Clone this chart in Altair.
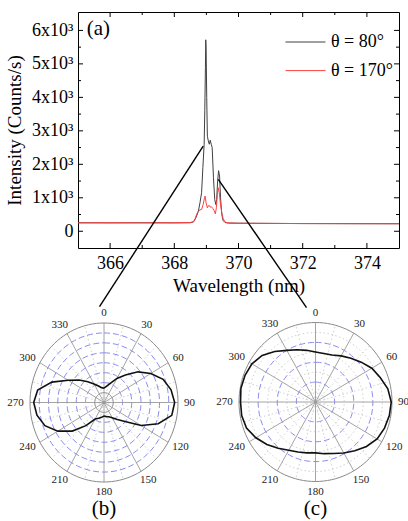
import altair as alt
import pandas as pd

SERIF = "Liberation Serif, Times New Roman, Times, serif"

# ---------------- emission spectra (counts/s vs wavelength in nm) ----------------
label_80 = "θ = 80°"
label_170 = "θ = 170°"

wl_80 = [365.0, 366.0, 367.0, 368.0, 368.5, 368.60, 368.68, 368.75, 368.80, 368.85,
         368.89, 368.93, 368.95, 368.97, 368.98, 368.99, 369.01, 369.03, 369.06, 369.09,
         369.12, 369.15, 369.18, 369.22, 369.26, 369.29, 369.32, 369.35, 369.38, 369.41,
         369.44, 369.48, 369.52, 369.58, 369.70, 370.0, 371.0, 372.0, 373.0, 374.0, 375.0]
counts_80 = [255, 250, 255, 250, 255, 280, 420, 600, 850, 1150,
             1900, 2600, 3600, 4900, 5720, 5500, 4000, 2840, 2700, 2600,
             2720, 2600, 2500, 1600, 950, 800, 950, 1500, 1810, 1650,
             1000, 500, 320, 260, 245, 240, 235, 230, 228, 226, 225]

wl_170 = [365.0, 366.0, 367.0, 368.0, 368.5, 368.60, 368.64, 368.70, 368.75, 368.80,
          368.85, 368.90, 368.94, 368.96, 368.99, 369.03, 369.06, 369.09, 369.12, 369.16,
          369.20, 369.24, 369.28, 369.31, 369.34, 369.37, 369.40, 369.44, 369.48, 369.52,
          369.58, 369.65, 370.0, 371.0, 372.0, 373.0, 374.0, 375.0]
counts_170 = [250, 255, 250, 255, 260, 290, 350, 520, 600, 640,
              650, 800, 1000, 1050, 850, 700, 760, 770, 720, 730,
              680, 620, 520, 700, 1100, 1300, 1150, 800, 550, 380,
              280, 250, 240, 235, 230, 228, 226, 225]

x_major = [366, 368, 370, 372, 374]
x_minor = [367, 369, 371, 373]
y_major = [0, 1000, 2000, 3000, 4000, 5000, 6000]
y_minor = [500, 1500, 2500, 3500, 4500, 5500]

# pointer lines from the two emission peaks down to the polar scans
pointer_wl = [368.90, 369.37]
pointer_counts = [2545, 1548]
pointer_wl_end = [365.67, 372.12]
pointer_counts_end = [-2254, -2284]

# ---------------- angular scans (normalised intensity, 10 degree steps) ----------------
scan_deg = list(range(0, 360, 10))
r_b = [0.18, 0.21, 0.26, 0.35, 0.45, 0.60, 0.73, 0.85, 0.92, 0.955,
       0.93, 0.78, 0.58, 0.37, 0.28, 0.22, 0.19, 0.18, 0.17, 0.19,
       0.21, 0.24, 0.38, 0.56, 0.72, 0.85, 0.92, 0.95, 0.91, 0.75,
       0.56, 0.44, 0.34, 0.27, 0.22, 0.19]
r_c = [0.63, 0.62, 0.63, 0.67, 0.72, 0.78, 0.85, 0.90, 0.96, 0.99,
       0.98, 0.96, 0.93, 0.87, 0.80, 0.74, 0.69, 0.66, 0.64, 0.65,
       0.67, 0.70, 0.76, 0.83, 0.90, 0.96, 0.98, 0.98, 0.99, 0.98,
       0.96, 0.91, 0.83, 0.75, 0.70, 0.66]
angle_labels = list(range(0, 360, 30))

# ---------------- spectrum panel ----------------
W, H = 321, 236
x_sc = alt.Scale(domain=[365, 375], nice=False, zero=False)
y_sc = alt.Scale(domain=[-500, 6550], nice=False, zero=False)
color_sc = alt.Scale(domain=[label_80, label_170], range=["#404040", "#ff4040"])

x_axis = alt.Axis(values=x_major, format="d", title="Wavelength (nm)",
                  labelFontSize=18, titleFontSize=19, labelPadding=6, titlePadding=4,
                  labelOverlap=False)
y_axis = alt.Axis(values=y_major, title="Intensity (Counts/s)",
                  labelExpr="datum.value == 0 ? '0' : (datum.value / 1000) + 'x10³'",
                  labelFontSize=18, titleFontSize=19, labelPadding=5, titlePadding=7,
                  labelOverlap=False)

X = alt.X("wl:Q", scale=x_sc, axis=x_axis)
Y = alt.Y("counts:Q", scale=y_sc, axis=y_axis)

df80 = pd.DataFrame({"wl": wl_80, "counts": counts_80, "series": label_80})
df170 = pd.DataFrame({"wl": wl_170, "counts": counts_170, "series": label_170})

legend = alt.Legend(orient="none", legendX=207, legendY=22, title=None,
                    symbolType="stroke", symbolSize=1600, symbolStrokeWidth=1,
                    labelFont=SERIF, labelFontSize=18, labelColor="black",
                    labelOffset=5, clipHeight=16, rowPadding=10.6, padding=0)

line80 = alt.Chart(df80).mark_line(strokeWidth=1).encode(
    x=X, y=Y, color=alt.Color("series:N", scale=color_sc, legend=legend))
line170 = alt.Chart(df170).mark_line(strokeWidth=1).encode(
    x=X, y=Y, color=alt.Color("series:N", scale=color_sc, legend=legend))

# inward ticks on all four sides of the frame
xmaj = pd.DataFrame({"wl": x_major})
xmin = pd.DataFrame({"wl": x_minor})
ymaj = pd.DataFrame({"counts": y_major})
ymin = pd.DataFrame({"counts": y_minor})
tick_layers = []
for frame, size in ((xmaj, 5), (xmin, 3)):
    tick_layers.append(alt.Chart(frame).mark_rule(color="black").encode(
        x=X, y=alt.value(H), y2=alt.value(H - size)))
    tick_layers.append(alt.Chart(frame).mark_rule(color="black").encode(
        x=X, y=alt.value(0), y2=alt.value(size)))
for frame, size in ((ymaj, 5), (ymin, 3)):
    tick_layers.append(alt.Chart(frame).mark_rule(color="black").encode(
        y=Y, x=alt.value(0), x2=alt.value(size)))
    tick_layers.append(alt.Chart(frame).mark_rule(color="black").encode(
        y=Y, x=alt.value(W), x2=alt.value(W - size)))

pointers = alt.Chart(pd.DataFrame({
    "wl": pointer_wl, "counts": pointer_counts,
    "wl2": pointer_wl_end, "counts2": pointer_counts_end,
})).mark_rule(color="black", strokeWidth=1.4).encode(
    x=X, y=Y, x2="wl2:Q", y2="counts2:Q")

tag_a = alt.Chart(pd.DataFrame({"wl": [365.27], "counts": [6040], "tag": ["(a)"]})).mark_text(
    align="left", baseline="middle", font=SERIF, fontSize=21, color="black"
).encode(x=X, y=Y, text="tag:N")

spectrum = alt.layer(line80, line170, *tick_layers, pointers, tag_a)


# ---------------- polar panels ----------------
def polar_panel(r_values, cx, cy, rx, ry, blue_rings, solid_rings, dotted_rings, tag, tag_y):
    xs = alt.Scale(domain=[-1, 1], range=[cx - rx, cx + rx], nice=False, zero=False)
    ys = alt.Scale(domain=[-1, 1], range=[cy + ry, cy - ry], nice=False, zero=False)
    PX = alt.X("px:Q", scale=xs, axis=None)
    PY = alt.Y("py:Q", scale=ys, axis=None)
    to_xy = dict(px="datum.r * sin(datum.deg * PI / 180)",
                 py="datum.r * cos(datum.deg * PI / 180)")

    def rings(radii):
        return pd.DataFrame([{"r": r, "deg": d} for r in radii for d in range(0, 361, 3)])

    layers = []
    if dotted_rings:
        layers.append(alt.Chart(rings(dotted_rings)).transform_calculate(**to_xy).mark_line(
            color="#c4c4c4", strokeWidth=0.8, strokeDash=[1.5, 2.5]
        ).encode(x=PX, y=PY, detail="r:N", order="deg:Q"))
    # light dotted spokes between the 30 degree spokes
    layers.append(alt.Chart(pd.DataFrame({"deg": list(range(15, 360, 30)), "r": 1.0}))
                  .transform_calculate(zx="0", zy="0", **to_xy)
                  .mark_rule(color="#c4c4c4", strokeWidth=0.8, strokeDash=[1.5, 2.5])
                  .encode(x=alt.X("zx:Q", scale=xs, axis=None),
                          y=alt.Y("zy:Q", scale=ys, axis=None), x2="px:Q", y2="py:Q"))
    layers.append(alt.Chart(rings(blue_rings)).transform_calculate(**to_xy).mark_line(
        color="#7c7cf0", strokeWidth=0.9, strokeDash=[6, 3]
    ).encode(x=PX, y=PY, detail="r:N", order="deg:Q"))
    layers.append(alt.Chart(pd.DataFrame({"deg": angle_labels, "r": 1.0}))
                  .transform_calculate(zx="0", zy="0", **to_xy)
                  .mark_rule(color="#9a9a9a", strokeWidth=0.9)
                  .encode(x=alt.X("zx:Q", scale=xs, axis=None),
                          y=alt.Y("zy:Q", scale=ys, axis=None), x2="px:Q", y2="py:Q"))
    layers.append(alt.Chart(rings(solid_rings)).transform_calculate(**to_xy).mark_line(
        color="#8a8a8a", strokeWidth=1
    ).encode(x=PX, y=PY, detail="r:N", order="deg:Q"))

    scan = pd.DataFrame({"deg": scan_deg + [360], "r": r_values + [r_values[0]]})
    layers.append(alt.Chart(scan).transform_calculate(**to_xy).mark_line(
        color="#111111", strokeWidth=1.6
    ).encode(x=PX, y=PY, order="deg:Q"))

    lab = pd.DataFrame({"deg": angle_labels, "label": [str(a) for a in angle_labels]})
    layers.append(alt.Chart(lab).transform_calculate(
        px=f"sin(datum.deg * PI / 180) * (1 + (6 + 2.8 * length(datum.label)) / {rx})",
        py=f"cos(datum.deg * PI / 180) * (1 + 10 / {ry})",
    ).mark_text(font=SERIF, fontSize=11, color="#222222", align="center", baseline="middle")
        .encode(x=PX, y=PY, text="label:N"))

    layers.append(alt.Chart(pd.DataFrame({"px": [0.0], "py": [tag_y], "tag": [tag]}))
                  .mark_text(font=SERIF, fontSize=21, color="black", baseline="middle")
                  .encode(x=PX, y=PY, text="tag:N"))
    return alt.layer(*layers)


panel_b = polar_panel(r_b, cx=26, cy=390.5, rx=74, ry=79.5,
                      blue_rings=[0.25, 0.375, 0.5, 0.625, 0.75, 0.875],
                      solid_rings=[0.125, 1.0], dotted_rings=[],
                      tag="(b)", tag_y=-1.34)
panel_c = polar_panel(r_c, cx=237.5, cy=390, rx=76.5, ry=79.5,
                      blue_rings=[0.25, 0.5, 0.75],
                      solid_rings=[1.0], dotted_rings=[0.125, 0.375, 0.625, 0.875],
                      tag="(c)", tag_y=-1.34)

chart = alt.layer(spectrum, panel_b, panel_c).resolve_scale(
    x="independent", y="independent"
).properties(
    width=W, height=H,
    autosize=alt.AutoSizeParams(type="none"),
    padding={"left": 78, "top": 12, "right": 9, "bottom": 273},
    background="white",
).configure_view(
    stroke="black", strokeWidth=1
).configure_axis(
    labelFont=SERIF, titleFont=SERIF, labelColor="black", titleColor="black",
    titleFontWeight="normal", grid=False, ticks=False, domain=False,
)

chart.save("out.html", embed_options={"renderer": "svg", "actions": False})
